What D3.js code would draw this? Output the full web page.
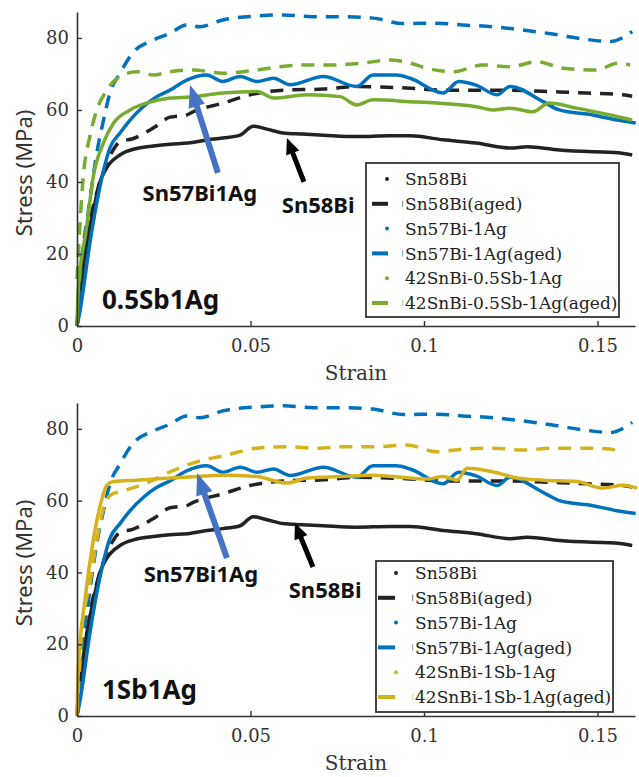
<!DOCTYPE html>
<html>
<head>
<meta charset="utf-8">
<script src="https://cdn.jsdelivr.net/npm/d3@7"></script>
<style>
  body { margin: 0; background: #fff; }
  svg { display: block; }
</style>
</head>
<body>
<svg width="639" height="777"></svg>
<script>
// strain / stress pairs
const sn58bi = [[0,0],[0.001,10],[0.0028,23],[0.0047,32],[0.0066,40],[0.0086,44],[0.0124,47.5],[0.0172,49.3],[0.022,50],[0.0268,50.5],[0.032,50.8],[0.037,51.6],[0.042,52.2],[0.047,53],[0.0508,55.5],[0.055,54.6],[0.0594,53.6],[0.065,53.3],[0.071,53],[0.0806,52.6],[0.09,52.8],[0.096,52.8],[0.1055,51.7],[0.115,50.8],[0.1248,49.4],[0.1297,49.8],[0.139,48.9],[0.1487,48.4],[0.155,48.2],[0.16,47.5]];
const sn58biAged = [[0,0],[0.002,16],[0.004,30],[0.006,38],[0.008,44],[0.0105,49],[0.0124,51.2],[0.016,52],[0.0225,55.3],[0.0268,58],[0.0316,58.6],[0.0335,59.5],[0.042,61.9],[0.0499,64.2],[0.0594,65.5],[0.071,65.8],[0.0806,66.5],[0.095,66.1],[0.1055,65.5],[0.115,65.5],[0.1248,65.5],[0.136,65.1],[0.147,64.7],[0.1573,64.2],[0.16,63.8]];
const sn57bi = [[0,0],[0.0009,4.4],[0.0037,23],[0.0066,38.6],[0.0095,49.5],[0.0124,53.6],[0.0153,57.2],[0.019,60.8],[0.023,63.7],[0.0268,65.5],[0.0316,68.3],[0.0374,69.7],[0.042,67.9],[0.047,69.3],[0.0519,67.9],[0.0566,68.8],[0.0614,67],[0.071,69.3],[0.0806,66.5],[0.0853,69.7],[0.092,69.7],[0.096,68.8],[0.1055,64.7],[0.11,67.9],[0.115,66.9],[0.121,64.2],[0.1248,66.5],[0.1343,62.3],[0.139,60],[0.1487,58.6],[0.1556,57.2],[0.161,56.4]];
const sn57biAged = [[0,0],[0.0009,13.7],[0.0033,32],[0.0057,48],[0.0076,57],[0.0095,64.7],[0.0124,70.2],[0.016,75.8],[0.022,79.4],[0.0268,81.3],[0.0316,83.6],[0.0354,83.1],[0.042,85],[0.0519,86.1],[0.0594,86.4],[0.068,85.9],[0.0758,85.9],[0.0853,85.5],[0.094,84],[0.1037,84.1],[0.111,83.6],[0.12,83.1],[0.1285,82.2],[0.137,81.1],[0.146,79.7],[0.1536,79],[0.16,81.8]];
const sb05 = [[0,0],[0.0003,9],[0.0028,27.6],[0.0047,41.5],[0.0076,50.8],[0.0105,56.3],[0.0153,60],[0.02,61.9],[0.0268,63.3],[0.0326,63.6],[0.042,64.7],[0.0519,65.1],[0.0566,63.3],[0.0663,64.2],[0.0758,63.7],[0.0806,61.4],[0.0853,62.8],[0.096,62.3],[0.1037,61.9],[0.115,60.9],[0.12,60],[0.1248,60.5],[0.1314,59.5],[0.136,61.9],[0.144,60.5],[0.1536,58.6],[0.16,57.2]];
const sb05Aged = [[0,13],[0.0018,41.5],[0.0037,52.6],[0.0057,60],[0.0086,65.5],[0.0124,69.3],[0.0172,70.6],[0.022,69.7],[0.0268,70.6],[0.0335,71.1],[0.042,70.2],[0.0519,71.1],[0.0585,72],[0.0663,72.5],[0.0738,72.5],[0.0825,73],[0.09,73.9],[0.096,73],[0.1008,71.6],[0.1084,70.6],[0.117,72.5],[0.1248,72],[0.1326,73.4],[0.14,71.6],[0.15,71.1],[0.1556,73],[0.1594,72.5]];
const sb1 = [[0,0],[0.0004,13.7],[0.0023,32.3],[0.0047,49],[0.0071,60.2],[0.0086,64.3],[0.0105,65.3],[0.0172,65.7],[0.0268,66.3],[0.0345,66.7],[0.042,67.1],[0.0518,66.7],[0.0605,64.9],[0.0663,66.3],[0.0758,66.7],[0.0853,67.1],[0.096,66.3],[0.1008,66],[0.1055,66.7],[0.1095,65.7],[0.1124,69],[0.12,68],[0.1268,66.3],[0.1343,65.7],[0.144,65.3],[0.1516,63.5],[0.1573,64.3],[0.1614,63.5]];
const sb1Aged = [[0,0],[0.0013,23],[0.0037,37],[0.0061,51],[0.0081,59.3],[0.0104,62],[0.0124,62.5],[0.0172,63.9],[0.022,65.7],[0.0268,68],[0.0345,70.8],[0.0431,72.7],[0.0518,74.6],[0.0604,75],[0.069,74.6],[0.0767,75],[0.0853,75],[0.095,75.5],[0.1037,73.6],[0.112,74.4],[0.12,74.6],[0.1285,74.1],[0.137,74.6],[0.145,74.6],[0.1536,74.4],[0.156,73.6]];

const xTicks = [0, 0.05, 0.1, 0.15];
const xTickLabels = ["0", "0.05", "0.1", "0.15"];
const yTicks = [0, 20, 40, 60, 80];

const legendTop = ["Sn58Bi", "Sn58Bi(aged)", "Sn57Bi-1Ag", "Sn57Bi-1Ag(aged)", "42SnBi-0.5Sb-1Ag", "42SnBi-0.5Sb-1Ag(aged)"];
const legendBottom = ["Sn58Bi", "Sn58Bi(aged)", "Sn57Bi-1Ag", "Sn57Bi-1Ag(aged)", "42SnBi-1Sb-1Ag", "42SnBi-1Sb-1Ag(aged)"];

// annotation anchors, in data units: [strain, stress]
const arrowBlue = [[0.0406, 42.5], [0.0326, 66.9]];
const arrowBlack = [[0.0654, 40], [0.0605, 52.2]];
const arrowBlue2 = [[0.0432, 44], [0.0346, 67.7]];
const arrowBlack2 = [[0.068, 41.5], [0.0628, 53.8]];

const black = "#222222", blue = "#0072BD", green = "#77AC30", yellow = "#D6B21A";

var svg = d3.select("svg");

function arrowPath(x, y, a, shaft, headLen, headW) {
  var x1 = x(a[0][0]), y1 = y(a[0][1]), x2 = x(a[1][0]), y2 = y(a[1][1]);
  var dx = x2 - x1, dy = y2 - y1, L = Math.hypot(dx, dy);
  var ux = dx / L, uy = dy / L, nx = -uy, ny = ux;
  var bx = x2 - ux * headLen, by = y2 - uy * headLen;
  var p = [
    [x1 + nx * shaft / 2, y1 + ny * shaft / 2],
    [bx + nx * shaft / 2, by + ny * shaft / 2],
    [bx + nx * headW / 2, by + ny * headW / 2],
    [x2, y2],
    [bx - nx * headW / 2, by - ny * headW / 2],
    [bx - nx * shaft / 2, by - ny * shaft / 2],
    [x1 - nx * shaft / 2, y1 - ny * shaft / 2]
  ];
  return "M" + p.map(d => d.join(",")).join("L") + "Z";
}

function drawPanel(cfg) {
  var x = d3.scaleLinear().domain([0, 0.1608]).range([77, 635]);
  var y = d3.scaleLinear().domain([0, 87.2]).range(cfg.yRange);
  var g = svg.append("g");

  var line = d3.line()
    .x(d => x(d[0]))
    .y(d => y(d[1]))
    .curve(d3.curveMonotoneX);

  cfg.series.forEach(function (s) {
    g.append("path")
      .datum(s.data)
      .attr("fill", "none")
      .attr("stroke", s.color)
      .attr("stroke-width", 3.5)
      .attr("stroke-linejoin", "round")
      .attr("stroke-dasharray", s.aged ? "13,9" : null)
      .attr("d", line);
  });

  // axes
  var xAxis = g.append("g")
    .attr("transform", "translate(0," + cfg.yRange[0] + ")")
    .call(d3.axisBottom(x).tickValues(xTicks).tickFormat((d, i) => xTickLabels[i])
      .tickSizeInner(-5).tickSizeOuter(0).tickPadding(13));
  var yAxis = g.append("g")
    .attr("transform", "translate(77,0)")
    .call(d3.axisLeft(y).tickValues(yTicks).tickSizeInner(-5).tickSizeOuter(0).tickPadding(8));
  [xAxis, yAxis].forEach(function (a) {
    a.select(".domain").attr("stroke", "#333").attr("stroke-width", 1.6);
    a.selectAll(".tick line").attr("stroke", "#333").attr("stroke-width", 1.4);
    a.selectAll(".tick text")
      .attr("fill", "#333")
      .style("font-family", "DejaVu Serif")
      .style("font-size", "18px");
  });

  g.append("text")
    .attr("x", 356)
    .attr("y", cfg.yRange[0] + 54)
    .attr("text-anchor", "middle")
    .attr("fill", "#333")
    .style("font-family", "DejaVu Serif")
    .style("font-size", "20px")
    .text("Strain");

  g.append("text")
    .attr("transform", "translate(32," + (cfg.yRange[0] - 153) + ") rotate(-90)")
    .attr("text-anchor", "middle")
    .attr("fill", "#333")
    .style("font-family", "Noto Sans")
    .style("font-size", "22px")
    .text("Stress (MPa)");

  // arrows and labels
  g.append("path").attr("d", arrowPath(x, y, cfg.arrowBlue, 6, 22, 17)).attr("fill", "#4472C4");
  g.append("path").attr("d", arrowPath(x, y, cfg.arrowBlack, 5, 16, 14)).attr("fill", "#000");

  cfg.labels.forEach(function (l) {
    g.append("text")
      .attr("x", x(l.at[0]))
      .attr("y", y(l.at[1]))
      .attr("dy", "0.35em")
      .attr("text-anchor", l.anchor)
      .attr("fill", "#111")
      .style("font-family", "Noto Sans")
      .style("font-weight", "bold")
      .style("font-size", l.size + "px")
      .text(l.text);
  });

  // legend
  var L = cfg.legend;
  var lg = g.append("g").attr("transform", "translate(" + L.x + "," + L.y + ")");
  lg.append("rect")
    .attr("width", L.w).attr("height", L.h)
    .attr("fill", "#fff").attr("stroke", "#333").attr("stroke-width", 1.8);
  cfg.series.forEach(function (s, i) {
    var ry = L.top + i * 24.8;
    if (s.aged) {
      lg.append("rect")
        .attr("x", L.dash[0]).attr("y", ry - 2)
        .attr("width", L.dash[1] - L.dash[0]).attr("height", 4)
        .attr("fill", s.color);
      lg.append("rect")
        .attr("x", 36).attr("y", ry - 3)
        .attr("width", 1.2).attr("height", 6)
        .attr("fill", s.color).attr("opacity", 0.5);
    } else {
      lg.append("circle")
        .attr("cx", L.dot).attr("cy", ry)
        .attr("r", 2).attr("fill", s.color);
    }
    lg.append("text")
      .attr("x", 39).attr("y", ry)
      .attr("dy", "0.36em")
      .attr("fill", "#222")
      .style("font-family", "DejaVu Serif")
      .style("font-size", "17px")
      .text(L.names[i]);
  });
}

drawPanel({
  yRange: [326, 12],
  series: [
    { data: sn58bi, color: black, aged: false },
    { data: sn58biAged, color: black, aged: true },
    { data: sn57bi, color: blue, aged: false },
    { data: sn57biAged, color: blue, aged: true },
    { data: sb05, color: green, aged: false },
    { data: sb05Aged, color: green, aged: true }
  ],
  arrowBlue: arrowBlue,
  arrowBlack: arrowBlack,
  labels: [
    { text: "Sn57Bi1Ag", at: [0.0354, 36.9], anchor: "middle", size: 22 },
    { text: "Sn58Bi", at: [0.0695, 33.6], anchor: "middle", size: 22 },
    { text: "0.5Sb1Ag", at: [0.0072, 7.2], anchor: "start", size: 26 }
  ],
  legend: { x: 366, y: 163, w: 253, h: 154, top: 16, dash: [6, 22], dot: 21, names: legendTop }
});

drawPanel({
  yRange: [716, 403],
  series: [
    { data: sn58bi, color: black, aged: false },
    { data: sn58biAged, color: black, aged: true },
    { data: sn57bi, color: blue, aged: false },
    { data: sn57biAged, color: blue, aged: true },
    { data: sb1, color: yellow, aged: false },
    { data: sb1Aged, color: yellow, aged: true }
  ],
  arrowBlue: arrowBlue2,
  arrowBlack: arrowBlack2,
  labels: [
    { text: "Sn57Bi1Ag", at: [0.0357, 39.5], anchor: "middle", size: 22 },
    { text: "Sn58Bi", at: [0.0715, 35.1], anchor: "middle", size: 22 },
    { text: "1Sb1Ag", at: [0.0072, 7.2], anchor: "start", size: 26 }
  ],
  legend: { x: 376, y: 561, w: 237, h: 151, top: 12, dash: [2, 19], dot: 20, names: legendBottom }
});
</script>
</body>
</html>
